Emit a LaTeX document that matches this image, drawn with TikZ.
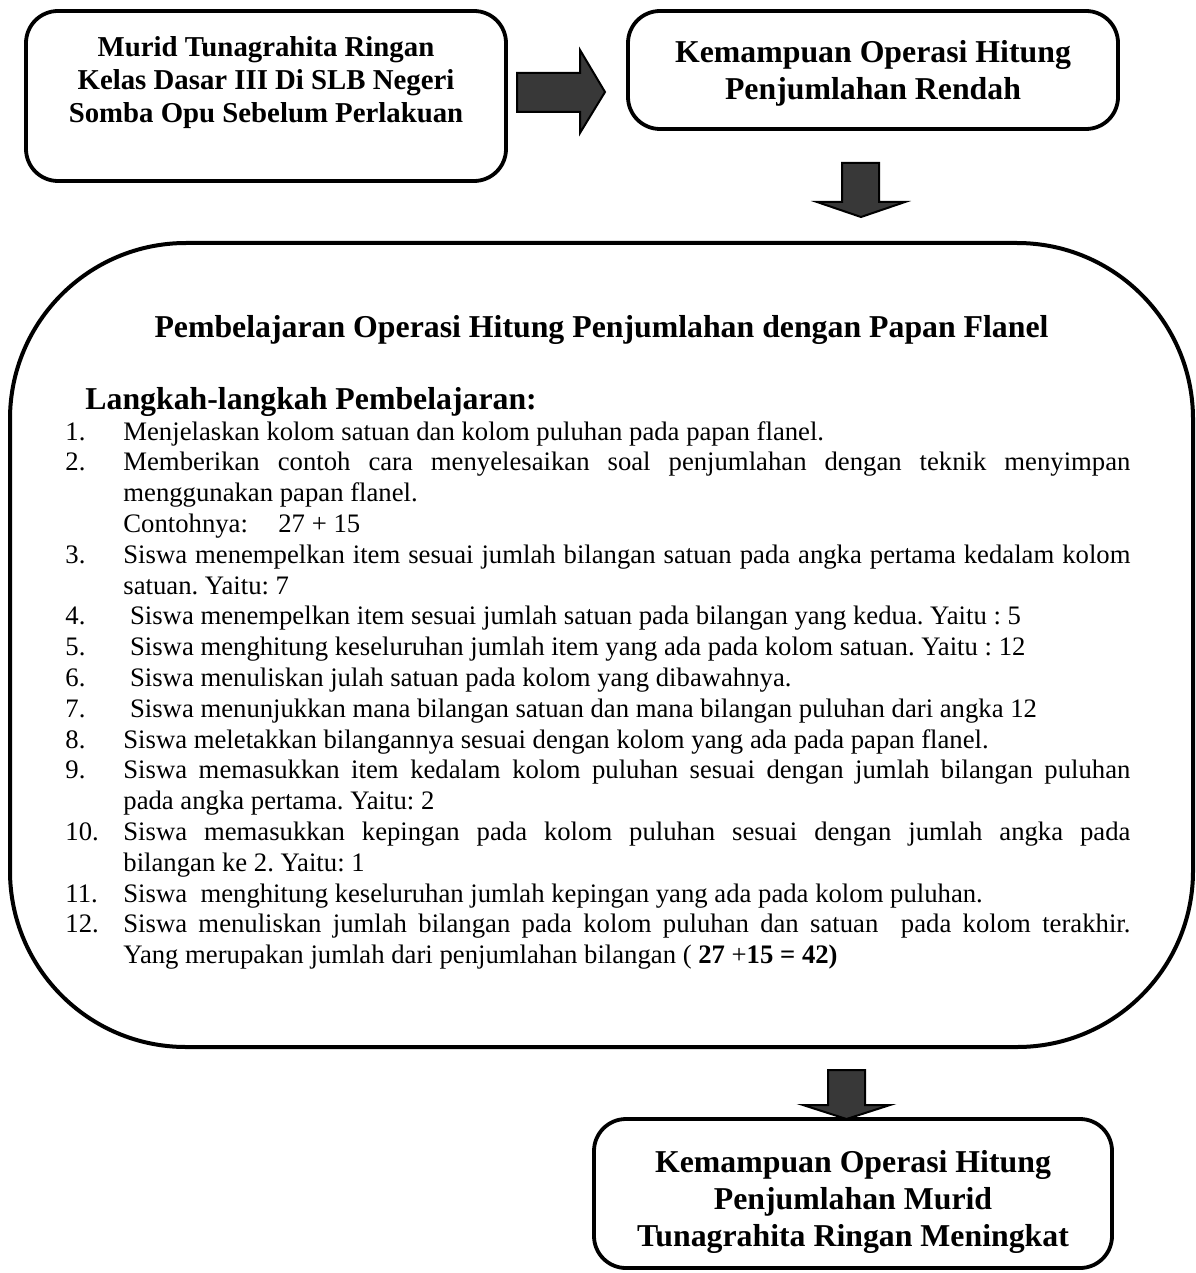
\documentclass[tikz,border=0pt]{standalone}
\usepackage{fontspec}
\setmainfont{Liberation Serif}
\frenchspacing
\begin{document}
\frenchspacing
\begin{tikzpicture}[x=0.5pt,y=-0.5pt,
  box/.style={draw=black, line width=1.9pt, rounded corners=16pt, rectangle, inner sep=0pt},
  bigbox/.style={draw=black, line width=2pt, rounded corners=88pt, rectangle, inner sep=0pt},
  blockarrow/.style={fill=black!78, draw=black, line width=1pt, line join=miter},
  bodytxt/.style={inner sep=0pt, anchor=base west, font=\fontsize{13.35pt}{15.4pt}\selectfont},
  numtxt/.style={bodytxt},
  boxtxt/.style={inner sep=0pt, anchor=base, font=\bfseries\fontsize{15.9pt}{18pt}\selectfont},
  boxtxtA/.style={inner sep=0pt, anchor=base, font=\bfseries\fontsize{14.4pt}{16.5pt}\selectfont},
  ttltxt/.style={inner sep=0pt, font=\bfseries\fontsize{15.9pt}{18pt}\selectfont}
]
\useasboundingbox (0,0) rectangle (1195,1273);

% boxes
\node[box, minimum width=240pt, minimum height=85pt] (b1) at (266,96) {};
\node[box, minimum width=245pt, minimum height=59pt] (b2) at (873,70) {};
\node[bigbox, minimum width=591.5pt, minimum height=402pt] (b3) at (601.5,645) {};
\node[box, minimum width=259pt, minimum height=74.5pt] (b4) at (853,1193.5) {};

% box texts
\node[boxtxtA] (b1l1) at (266,57) {Murid Tunagrahita Ringan};
\node[boxtxtA] (b1l2) at (266,90) {Kelas Dasar III Di SLB Negeri};
\node[boxtxtA] (b1l3) at (266,123) {Somba Opu Sebelum Perlakuan};

\node[boxtxt] (b2l1) at (873,63) {Kemampuan Operasi Hitung};
\node[boxtxt] (b2l2) at (873,100) {Penjumlahan Rendah};

\node[boxtxt] (b4l1) at (853,1172) {Kemampuan Operasi Hitung};
\node[boxtxt] (b4l2) at (853,1209) {Penjumlahan Murid};
\node[boxtxt] (b4l3) at (853,1246) {Tunagrahita Ringan Meningkat};

% block arrows
\draw[blockarrow] (517,73) -- (580,73) -- (580,50) -- (605,92) -- (580,133) -- (580,112) -- (517,112) -- cycle;
\draw[blockarrow] (842,163) -- (879,163) -- (879,202) -- (905,202) -- (861,217) -- (817,202) -- (842,202) -- cycle;
\draw[blockarrow] (828,1070) -- (865,1070) -- (865,1105) -- (890,1105) -- (846.5,1119) -- (803,1105) -- (828,1105) -- cycle;

% title
\node[ttltxt, anchor=base] (ttl) at (601.5,337) {Pembelajaran Operasi Hitung Penjumlahan dengan Papan Flanel};
\node[ttltxt, anchor=base west] (lk) at (85,409) {Langkah-langkah Pembelajaran:};

% list
\node[numtxt] (n0) at (65,440) {1.};
\node[bodytxt] (t0) at (123,440) {Menjelaskan kolom satuan dan kolom puluhan pada papan flanel.};
\node[numtxt] (n1) at (65,470.8) {2.};
\node[bodytxt] (t1) at (123,470.8) {\makebox[503.5pt][s]{Memberikan contoh cara menyelesaikan soal penjumlahan dengan teknik menyimpan}};
\node[bodytxt] (t2) at (123,501.6) {menggunakan papan flanel.};
\node[bodytxt] (t3) at (123,532.4) {\makebox[77.5pt][l]{Contohnya:}27 + 15};
\node[numtxt] (n4) at (65,563.2) {3.};
\node[bodytxt] (t4) at (123,563.2) {\makebox[503.5pt][s]{Siswa menempelkan item sesuai jumlah bilangan satuan pada angka pertama kedalam kolom}};
\node[bodytxt] (t5) at (123,594) {satuan. Yaitu: 7};
\node[numtxt] (n6) at (65,624.8) {4.};
\node[bodytxt] (t6) at (123,624.8) {\hspace{0.25em}Siswa menempelkan item sesuai jumlah satuan pada bilangan yang kedua. Yaitu : 5};
\node[numtxt] (n7) at (65,655.6) {5.};
\node[bodytxt] (t7) at (123,655.6) {\hspace{0.25em}Siswa menghitung keseluruhan jumlah item yang ada pada kolom satuan. Yaitu : 12};
\node[numtxt] (n8) at (65,686.4) {6.};
\node[bodytxt] (t8) at (123,686.4) {\hspace{0.25em}Siswa menuliskan julah satuan pada kolom yang dibawahnya.};
\node[numtxt] (n9) at (65,717.2) {7.};
\node[bodytxt] (t9) at (123,717.2) {\hspace{0.25em}Siswa menunjukkan mana bilangan satuan dan mana bilangan puluhan dari angka 12};
\node[numtxt] (n10) at (65,748) {8.};
\node[bodytxt] (t10) at (123,748) {Siswa meletakkan bilangannya sesuai dengan kolom yang ada pada papan flanel.};
\node[numtxt] (n11) at (65,778.8) {9.};
\node[bodytxt] (t11) at (123,778.8) {\makebox[503.5pt][s]{Siswa memasukkan item kedalam kolom puluhan sesuai dengan jumlah bilangan puluhan}};
\node[bodytxt] (t12) at (123,809.6) {pada angka pertama. Yaitu: 2};
\node[numtxt] (n13) at (65,840.4) {10.};
\node[bodytxt] (t13) at (123,840.4) {\makebox[503.5pt][s]{Siswa memasukkan kepingan pada kolom puluhan sesuai dengan jumlah angka pada}};
\node[bodytxt] (t14) at (123,871.2) {bilangan ke 2. Yaitu: 1};
\node[numtxt] (n15) at (65,902) {11.};
\node[bodytxt] (t15) at (123,902) {Siswa\ \ menghitung keseluruhan jumlah kepingan yang ada pada kolom puluhan.};
\node[numtxt] (n16) at (65,932.8) {12.};
\node[bodytxt] (t16) at (123,932.8) {\makebox[503.5pt][s]{Siswa menuliskan jumlah bilangan pada kolom puluhan dan satuan\ \ pada kolom terakhir.}};
\node[bodytxt] (t17) at (123,963.6) {Yang merupakan jumlah dari penjumlahan bilangan ( \textbf{27} +\textbf{15 = 42)}};
\end{tikzpicture}
\end{document}
